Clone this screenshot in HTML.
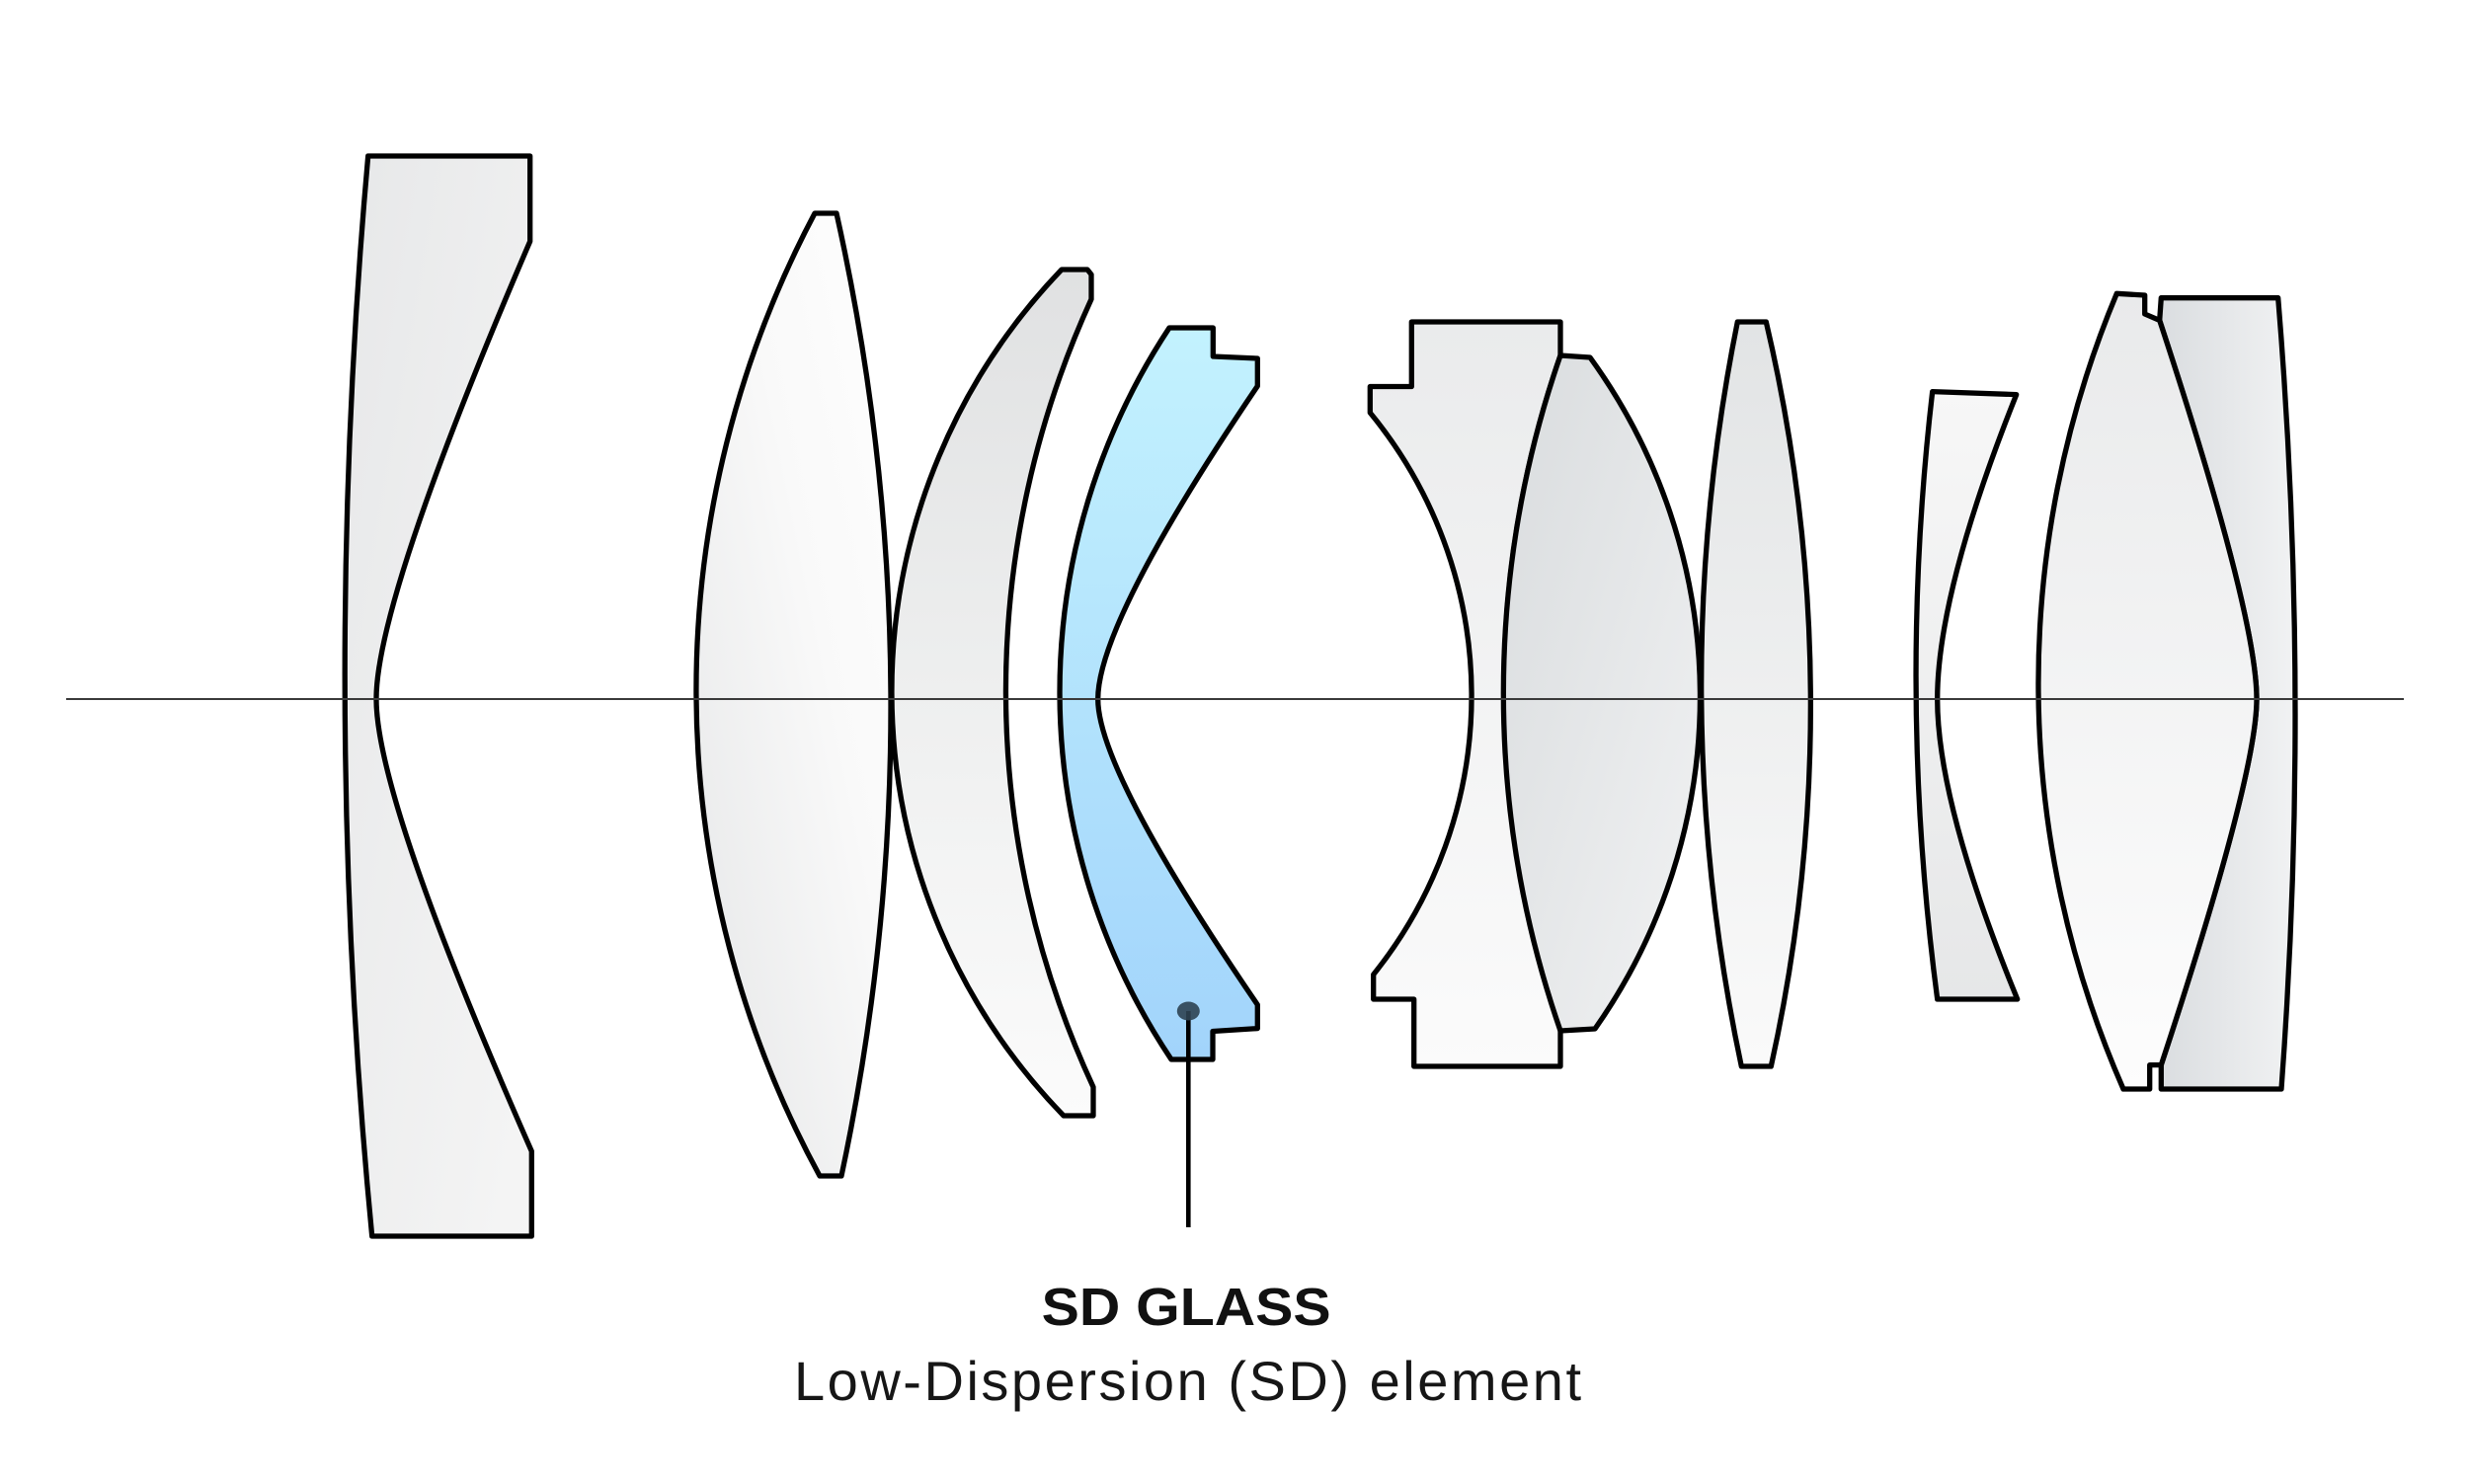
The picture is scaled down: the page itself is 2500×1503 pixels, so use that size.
<!DOCTYPE html>
<html>
<head>
<meta charset="utf-8">
<style>
  html, body { margin: 0; padding: 0; background: #ffffff; }
  body { width: 2500px; height: 1503px; overflow: hidden; }
  svg { display: block; }
</style>
</head>
<body>
<svg xmlns="http://www.w3.org/2000/svg" width="2500" height="1503" viewBox="0 0 2500 1503">
  <defs>
    <linearGradient id="g1" x1="0" y1="0" x2="1" y2="1">
      <stop offset="0" stop-color="#e7e8e9"/>
      <stop offset="1" stop-color="#f5f5f5"/>
    </linearGradient>
    <linearGradient id="g2" x1="0" y1="1" x2="1" y2="0">
      <stop offset="0" stop-color="#e5e6e7"/>
      <stop offset="0.6" stop-color="#f9f9f9"/>
      <stop offset="1" stop-color="#fefefe"/>
    </linearGradient>
    <linearGradient id="g3" x1="0" y1="0" x2="0" y2="1">
      <stop offset="0" stop-color="#e0e1e2"/>
      <stop offset="0.5" stop-color="#eeefef"/>
      <stop offset="1" stop-color="#fbfbfb"/>
    </linearGradient>
    <linearGradient id="gsd" x1="0" y1="0" x2="0" y2="1">
      <stop offset="0" stop-color="#c3f2fe"/>
      <stop offset="1" stop-color="#a2d4fb"/>
    </linearGradient>
    <linearGradient id="g5a" x1="0" y1="0" x2="0" y2="1">
      <stop offset="0" stop-color="#eaebec"/>
      <stop offset="1" stop-color="#fbfbfb"/>
    </linearGradient>
    <linearGradient id="g5b" x1="0" y1="0" x2="1" y2="1">
      <stop offset="0" stop-color="#d9dcde"/>
      <stop offset="1" stop-color="#f1f2f3"/>
    </linearGradient>
    <linearGradient id="g7" x1="0" y1="0" x2="0" y2="1">
      <stop offset="0" stop-color="#e2e4e5"/>
      <stop offset="1" stop-color="#fafafa"/>
    </linearGradient>
    <linearGradient id="g8" x1="0" y1="0" x2="0" y2="1">
      <stop offset="0" stop-color="#f7f7f7"/>
      <stop offset="1" stop-color="#e6e7e8"/>
    </linearGradient>
    <linearGradient id="g9c" x1="0" y1="0" x2="0" y2="1">
      <stop offset="0" stop-color="#e9eaeb"/>
      <stop offset="1" stop-color="#fdfdfd"/>
    </linearGradient>
    <linearGradient id="g9d" x1="0" y1="0" x2="1" y2="0">
      <stop offset="0" stop-color="#dadde0"/>
      <stop offset="1" stop-color="#f1f2f3"/>
    </linearGradient>
  </defs>

  <g stroke="#000" stroke-width="5.3" stroke-linejoin="round">
    <!-- Lens 1 -->
    <path fill="url(#g1)" d="M 372.7 158 L 536.7 158 L 536.7 244.4 Q 381 607 381 708 Q 381 809 538.3 1166 L 538.3 1252 L 376.7 1252 A 5900 5900 0 0 1 372.7 158 Z"/>
    <!-- Lens 2 -->
    <path fill="url(#g2)" d="M 825 216 L 847 216 A 2290 2290 0 0 1 852 1191 L 830 1191 A 1031 1031 0 0 1 825 216 Z"/>
    <!-- Lens 3 -->
    <path fill="url(#g3)" d="M 1075 273 L 1101 273 L 1105 278 L 1105 303 A 953 953 0 0 0 1107 1101 L 1107 1130 L 1077 1130 A 617 617 0 0 1 1075 273 Z"/>
    <!-- SD lens -->
    <path fill="url(#gsd)" d="M 1184 332 L 1228.3 332 L 1228.3 361 L 1273.3 363 L 1273.3 391 Q 1111.7 630 1111.7 708 Q 1111.7 781 1273.3 1017.6 L 1273.3 1041.6 L 1228 1044.5 L 1228 1073 L 1186 1073 A 669 669 0 0 1 1184 332 Z"/>
    <!-- Group 5 element A -->
    <path fill="url(#g5a)" d="M 1429.3 326 L 1580 326 L 1580 360 A 1043 1043 0 0 0 1580 1042 L 1580 1080 L 1431.7 1080 L 1431.7 1012 L 1390.7 1012 L 1390.7 987 A 451 451 0 0 0 1387.3 418 L 1387.3 391.5 L 1429.3 391.5 Z"/>
    <!-- Group 5 element B -->
    <path fill="url(#g5b)" d="M 1580 360 L 1610 362 A 585 585 0 0 1 1615 1042 L 1580 1044 A 1043 1043 0 0 1 1580 360 Z"/>
    <!-- Lens 7 -->
    <path fill="url(#g7)" d="M 1759.3 326 L 1788.3 326 A 1693 1693 0 0 1 1793.3 1080 L 1763.3 1080 A 1860 1860 0 0 1 1759.3 326 Z"/>
    <!-- Lens 8 -->
    <path fill="url(#g8)" d="M 1956.7 396.6 L 2041.7 399.6 Q 1961.7 600 1961.7 708 Q 1961.7 814 2042.7 1012 L 1961.7 1012 A 2501 2501 0 0 1 1956.7 396.6 Z"/>
    <!-- Group 9 element D (rear) -->
    <path fill="url(#g9d)" d="M 2188.3 301.7 L 2306.7 301.7 A 5154 5154 0 0 1 2310 1103 L 2188.3 1103 L 2188.3 1078.6 Q 2285 785 2285 708 Q 2285 623 2186.7 324.4 Z"/>
    <!-- Group 9 element C -->
    <path fill="url(#g9c)" d="M 2143.3 297.3 L 2171.7 299 L 2171.7 318 L 2186.7 324.4 Q 2285 623 2285 708 Q 2285 785 2188.3 1078.6 L 2176.7 1078.6 L 2176.7 1103 L 2150 1103 A 1023 1023 0 0 1 2143.3 297.3 Z"/>
  </g>

  <!-- Optical axis -->
  <line x1="67" y1="708" x2="2434" y2="708" stroke="#3a3a3a" stroke-width="2"/>

  <!-- SD pointer -->
  <line x1="1203.3" y1="1024" x2="1203.3" y2="1243" stroke="#000" stroke-width="4.6"/>
  <ellipse cx="1203.3" cy="1024" rx="11.5" ry="9.5" fill="#2e4352" opacity="0.9"/>

  <!-- Labels -->
  <text x="1054.6" y="1342" textLength="293" lengthAdjust="spacingAndGlyphs" font-family="'Liberation Sans', Arial, sans-serif" font-weight="700" font-size="54" fill="#111">SD GLASS</text>
  <text x="804" y="1418" textLength="797" lengthAdjust="spacing" font-family="'Liberation Sans', Arial, sans-serif" font-weight="400" font-size="56" fill="#161616">Low-Dispersion (SD) element</text>
</svg>
</body>
</html>
